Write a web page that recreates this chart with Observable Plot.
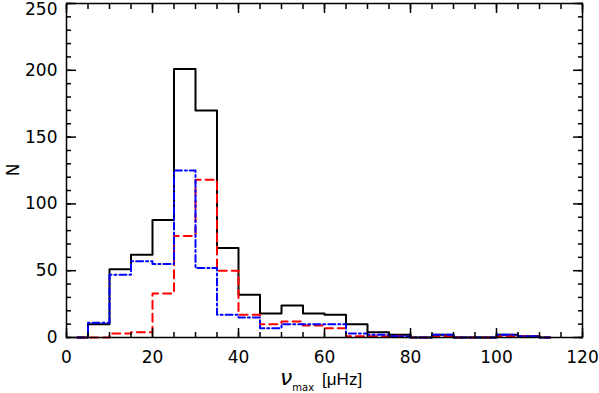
<!DOCTYPE html>
<html><head><meta charset="utf-8">
<script src="https://cdn.jsdelivr.net/npm/d3@7"></script>
<script src="https://cdn.jsdelivr.net/npm/@observablehq/plot@0.6"></script>
<style>body{margin:0;background:#fff} svg{display:block}</style>
</head><body><div id="chart"></div>
<script>
// bin centres (µHz), bins 5 µHz wide
const binCenters = [2.5,7.5,12.5,17.5,22.5,27.5,32.5,37.5,42.5,47.5,52.5,57.5,62.5,67.5,72.5,77.5,82.5,87.5,92.5,97.5,102.5,107.5,112.5];
const totalCounts = [0,10,51,62,88,201,170,67,32,18,24,18,17,10,4,2,0,2,0,0,2,1,0];
const redCounts   = [0,0,3,4,33,76,118,50,17,10,12,9,7,1,1,1,0,1,0,0,1,1,0];
const blueCounts  = [0,11,47,57,55,125,52,17,15,7,10,10,10,3,2,1,0,2,0,0,2,1,0];
const xMajor = [0,20,40,60,80,100,120];
const xMinor = [0,5,10,15,20,25,30,35,40,45,50,55,60,65,70,75,80,85,90,95,100,105,110,115,120];
const yMajor = [0,50,100,150,200,250];
const yMinor = [0,10,20,30,40,50,60,70,80,90,100,110,120,130,140,150,160,170,180,190,200,210,220,230,240,250];

const rows = s => binCenters.map((c, i) => ({x: c, n: s[i]}));
const blank = () => "";
const tk = {label: null, tickFormat: blank, strokeWidth: 1.5};
const yTop = yMajor[yMajor.length - 1];

const chart = Plot.plot({
  width: 599, height: 393,
  marginLeft: 66, marginRight: 17, marginTop: 3, marginBottom: 56,
  x: {domain: [0, 120]},
  y: {domain: [0, 250]},
  style: {fontFamily: "'DejaVu Sans', sans-serif", fontSize: "17px", background: "#fff", color: "#000"},
  marks: [
    Plot.line(rows(totalCounts), {x: "x", y: "n", curve: "step", stroke: "#000", strokeWidth: 2}),
    Plot.line(rows(redCounts), {x: "x", y: "n", curve: "step", stroke: "#ff0000", strokeWidth: 2, strokeDasharray: "8,5"}),
    Plot.line(rows(blueCounts), {x: "x", y: "n", curve: "step", stroke: "#0000ff", strokeWidth: 2, strokeDasharray: "7,3,2,3"}),
    Plot.axisX({anchor: "bottom", ticks: xMajor, tickSize: -9, ...tk}),
    Plot.axisX({anchor: "bottom", ticks: xMinor, tickSize: -5, ...tk}),
    Plot.axisX({anchor: "top", ticks: xMajor, tickSize: -9, ...tk}),
    Plot.axisX({anchor: "top", ticks: xMinor, tickSize: -5, ...tk}),
    Plot.axisY({anchor: "left", ticks: yMajor, tickSize: -10, ...tk}),
    Plot.axisY({anchor: "left", ticks: yMinor, tickSize: -5, ...tk}),
    Plot.axisY({anchor: "right", ticks: yMajor, tickSize: -10, ...tk}),
    Plot.axisY({anchor: "right", ticks: yMinor, tickSize: -5, ...tk}),
    Plot.axisX({anchor: "bottom", ticks: xMajor, tickSize: 0, tickPadding: 13, label: null, fontSize: 17}),
    Plot.axisY({anchor: "left", ticks: yMajor.filter(v => v !== yTop), tickSize: 0, tickPadding: 9, label: null, fontSize: 17}),
    Plot.axisY({anchor: "left", ticks: [yTop], tickSize: 0, tickPadding: 9, label: null, fontSize: 17, dy: 6}),
    Plot.frame({stroke: "#000", strokeWidth: 1.5})
  ]
});

const svg = d3.select(chart);
svg.append("text")
  .attr("transform", "translate(19,170) rotate(-90)")
  .attr("text-anchor", "middle")
  .attr("font-family", "'DejaVu Sans', sans-serif")
  .attr("font-size", 17)
  .text("N");
const t = svg.append("text")
  .attr("x", 280).attr("y", 385)
  .attr("text-anchor", "start")
  .attr("font-family", "'DejaVu Sans', sans-serif")
  .attr("font-size", 18);
t.append("tspan").attr("font-style", "italic").attr("font-size", 22).text("ν");
t.append("tspan").attr("font-size", 10).attr("dy", 6).attr("dx", 0).text("max");
t.append("tspan").attr("dy", -6).attr("dx", 8).attr("font-family", "'Liberation Sans', sans-serif").attr("font-size", 17).text("[μHz]");
document.getElementById("chart").appendChild(chart);
</script>
</body></html>
